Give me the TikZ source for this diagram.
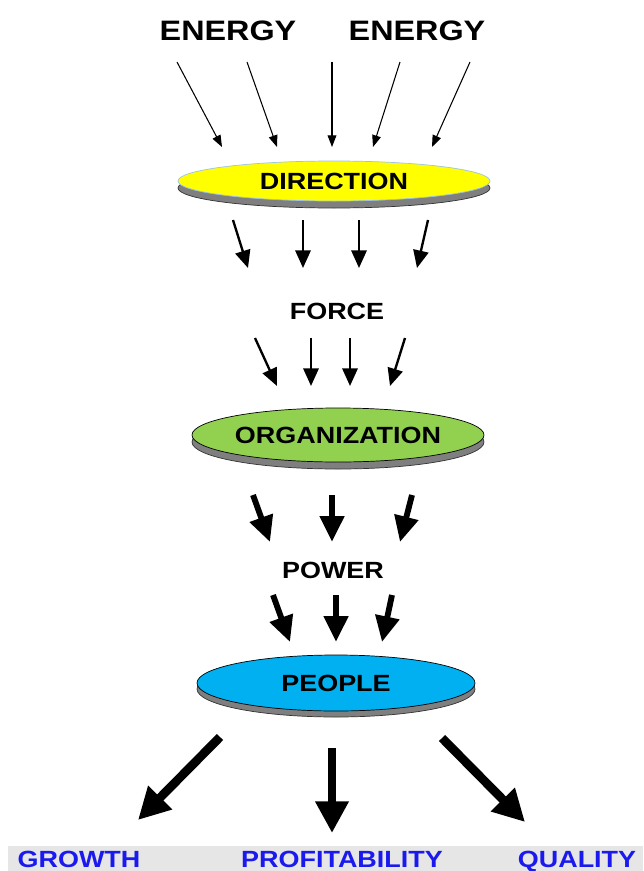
\documentclass[tikz,border=0pt]{standalone}
\usepackage{fontspec}
\setmainfont{Liberation Sans}[FakeStretch=1.15]
\usetikzlibrary{arrows.meta,shapes.geometric}

\begin{document}
\begin{tikzpicture}[x=0.03cm,y=-0.03cm,
  disc/.style={ellipse,draw=black,line width=0.6pt,inner sep=0pt},
  discshadow/.style={ellipse,fill=shadowgray,draw=black!80,line width=0.6pt,inner sep=0pt},
  word/.style={font=\bfseries\fontsize{20}{24}\selectfont},
  goal/.style={font=\bfseries\fontsize{20}{24}\selectfont,text=goalblue,anchor=base},
  thinarrow/.style={line width=0.9pt,-{Triangle[length=10pt,width=7.5pt]}},
  midarrow/.style={line width=2pt,-{Triangle[length=15pt,width=13pt]}},
  thickarrow/.style={line width=5pt,-{Triangle[length=22pt,width=20pt]}},
  bigarrow/.style={line width=7.5pt,-{Triangle[length=27pt,width=27pt]}}]
\definecolor{shadowgray}{HTML}{7F7F7F}
\definecolor{sunyellow}{HTML}{FFFF00}
\definecolor{leafgreen}{HTML}{92D050}
\definecolor{skyblue}{HTML}{00B0F0}
\definecolor{rimblue}{HTML}{9DC3E6}
\definecolor{bandgray}{HTML}{E6E6E6}
\definecolor{goalblue}{HTML}{1A1AEE}
\useasboundingbox (0,0) rectangle (643,871);
\node[font=\bfseries\fontsize{24}{28}\selectfont] (energyl) at (228,31) {ENERGY};
\node[font=\bfseries\fontsize{24}{28}\selectfont] (energyr) at (417,31) {ENERGY};
  \foreach \n/\sx/\tx in {1/177/222,2/247/277,3/332/332,4/400/373,5/470/432}
  {  \coordinate (es\n) at (\sx,62); \coordinate (et\n) at (\tx,147);
     \draw[thinarrow] (es\n) -- (et\n);}
\node[discshadow,minimum width=9.36cm,minimum height=1.2cm] (dirshadow) at (334,188) {};
\node[disc,fill=sunyellow,draw=rimblue,minimum width=9.36cm,minimum height=1.2cm,word] (direction) at (334,181) {DIRECTION};
  \foreach \n/\sx/\tx in {1/233/248,2/303/303,3/359/359,4/428/417}
  {  \coordinate (ds\n) at (\sx,220); \coordinate (dt\n) at (\tx,268);
     \draw[midarrow] (ds\n) -- (dt\n);}
\node[word] (force) at (337,311) {FORCE};
  \foreach \n/\sx/\tx in {1/255/277,2/311/311,3/350/350,4/405/390}
  {  \coordinate (fs\n) at (\sx,338); \coordinate (ft\n) at (\tx,386);
     \draw[midarrow] (fs\n) -- (ft\n);}
\node[discshadow,minimum width=8.76cm,minimum height=1.62cm] (orgshadow) at (338,442) {};
\node[disc,fill=leafgreen,minimum width=8.76cm,minimum height=1.62cm,word] (organization) at (338,435) {ORGANIZATION};
  \foreach \n/\sx/\tx in {1/253/270,2/332/332,3/412/400}
  {  \coordinate (os\n) at (\sx,495); \coordinate (ot\n) at (\tx,542);
     \draw[thickarrow] (os\n) -- (ot\n);}
\node[word] (power) at (333,570) {POWER};
  \foreach \n/\sx/\tx in {1/273/290,2/336/336,3/392/382}
  {  \coordinate (ps\n) at (\sx,595); \coordinate (pt\n) at (\tx,642);
     \draw[thickarrow] (ps\n) -- (pt\n);}
\node[discshadow,minimum width=8.34cm,minimum height=1.68cm] (peopleshadow) at (336,689) {};
\node[disc,fill=skyblue,minimum width=8.34cm,minimum height=1.68cm,word] (people) at (336,683) {PEOPLE};
\coordinate (gs) at (220,737); \coordinate (gt) at (138,820);
\coordinate (ps) at (332,748); \coordinate (pt) at (332,833);
\coordinate (qs) at (442,738); \coordinate (qt) at (525,822);
\draw[bigarrow] (gs) -- (gt);
\draw[bigarrow] (ps) -- (pt);
\draw[bigarrow] (qs) -- (qt);
\fill[bandgray] (8,846) rectangle (643,871);
\node[goal] (growth) at (79,867) {GROWTH};
\node[goal] (profit) at (342,867) {PROFITABILITY};
\node[goal] (quality) at (577,867) {QUALITY};
\end{tikzpicture}
\end{document}
